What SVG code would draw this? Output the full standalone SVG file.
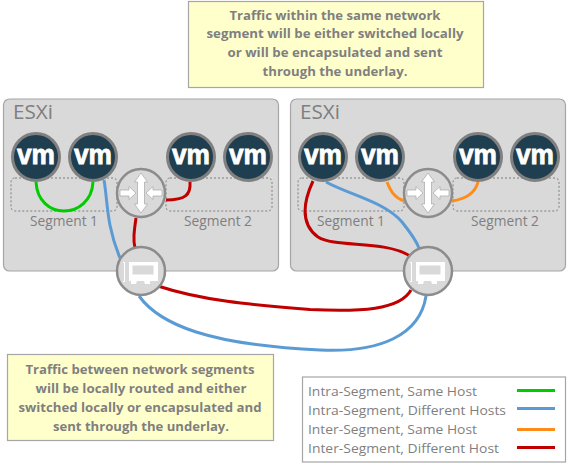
<svg xmlns="http://www.w3.org/2000/svg" width="567" height="466" viewBox="0 0 567 466">
<style>
text{font-family:"Open Sans","Liberation Sans",sans-serif}
.host{fill:#d9d9d9;stroke:#a6a6a6;stroke-width:1.2}
.hl{font-size:20px;fill:#7f7f7f}
.seg{fill:none;stroke:#7f7f7f;stroke-width:1;stroke-dasharray:2 2}
.sl{font-size:14px;fill:#7f7f7f;text-anchor:middle}
.vmc{fill:#1f3f50;stroke:#808080;stroke-width:3}
.vmt{font-family:"Liberation Sans",sans-serif;font-weight:700;font-size:27px;fill:#fff;stroke:#fff;stroke-width:.8;text-anchor:middle}
.circ{fill:#d9d9d9;stroke:#8c8c8c;stroke-width:2.5}
.arr{fill:#fff;stroke:#a6a6a6;stroke-width:.7}
.nic{fill:#fff;stroke:none}
.nici{fill:#d9d9d9;stroke:#fff;stroke-width:1}
.w{fill:none;stroke-width:3}
.g{stroke:#00cc00}.b{stroke:#5b9bd5}.o{stroke:#ff8c1a}.r{stroke:#c00000}
.note{fill:#ffffcc;stroke:#a6a6a6;stroke-width:1.2}
.nt{font-size:12.5px;font-weight:700;fill:#7f7f7f;text-anchor:middle}
.lg{font-size:13.5px;fill:#7f7f7f}
</style>
<defs>
<g id="vm"><circle class="vmc" r="23.500"/><text class="vmt" y="7" textLength="38" lengthAdjust="spacingAndGlyphs">vm</text></g>
<g id="router"><circle class="circ" r="24"/>
<path class="arr" d="M0-20l6.500 9h-3v22h3l-6.500 9-6.500-9h3v-22h-3z"/>
<path class="arr" d="M-21-3h9v-3.500l7 6.500-7 6.500v-3.500h-9z"/>
<path class="arr" d="M21-3h-9v-3.500l-7 6.500 7 6.500v-3.500h9z"/>
</g>
<g id="edge"><circle class="circ" r="24"/>
<path class="nic" d="M-12-9h29v19h-8v3h-5l-1-3h-7l-1 3h-5v-3h-2z"/>
<rect class="nici" x="-9" y="-6" width="22" height="10"/>
<path d="M-18-9h2v20h-2v-1h1v-18h-1z" fill="#fff"/>
</g>
</defs>
<g id="host1"><rect class="host" x="3.500" y="99" width="275" height="172" rx="6"/><text class="hl" x="13" y="119" textLength="40" lengthAdjust="spacingAndGlyphs">ESXi</text></g>
<g id="host2"><rect class="host" x="290.500" y="99" width="275" height="172" rx="6"/><text class="hl" x="300" y="119" textLength="40" lengthAdjust="spacingAndGlyphs">ESXi</text></g>
<g id="segments">
<g id="seg1a"><rect class="seg" x="11" y="178" width="106" height="33" rx="4"/><text class="sl" x="64" y="226" textLength="68" lengthAdjust="spacingAndGlyphs">Segment 1</text></g>
<g id="seg2a"><rect class="seg" x="166" y="178" width="106" height="33" rx="4"/><text class="sl" x="218" y="226" textLength="68" lengthAdjust="spacingAndGlyphs">Segment 2</text></g>
<g id="seg1b"><rect class="seg" x="298" y="178" width="106" height="33" rx="4"/><text class="sl" x="351" y="226" textLength="68" lengthAdjust="spacingAndGlyphs">Segment 1</text></g>
<g id="seg2b"><rect class="seg" x="453" y="178" width="106" height="33" rx="4"/><text class="sl" x="505" y="226" textLength="68" lengthAdjust="spacingAndGlyphs">Segment 2</text></g>
</g>
<g id="connectors">
<path class="w g" d="M36 182C37 201 50 211 64 211C78 211 92 201 93 182"/>
<path class="w b" d="M104 180C108 203 106 224 120 258"/>
<path class="w r" d="M190 182C191 195 185 200 166 200"/>
<path class="w r" d="M136 218C134 232 133 240 135 248"/>
<path class="w r" d="M158 286C200 300 250 305 310 309.500C360 312 400 310 411 290"/>
<path class="w b" d="M139 296C160 325 210 345 320 350C380 353 420 335 426 296"/>
<path class="w r" d="M313 181C301 207 303 226 318 237C335 248 385 240 410 256"/>
<path class="w b" d="M326 182C350 195 385 202 402 222C410 232 416 240 419 248"/>
<path class="w o" d="M387 182C391 192 395 198 404 201"/>
<path class="w o" d="M478 182C475 194 465 199 452 201"/>
</g>
<use id="vm1" href="#vm" x="36" y="157"/>
<use id="vm2" href="#vm" x="93" y="157"/>
<use id="vm3" href="#vm" x="191" y="157"/>
<use id="vm4" href="#vm" x="248" y="157"/>
<use id="vm5" href="#vm" x="323" y="157"/>
<use id="vm6" href="#vm" x="380" y="157"/>
<use id="vm7" href="#vm" x="478" y="157"/>
<use id="vm8" href="#vm" x="535" y="157"/>
<use id="router1" href="#router" x="141" y="193"/>
<use id="router2" href="#router" x="428" y="193"/>
<use id="edge1" href="#edge" x="141" y="271"/>
<use id="edge2" href="#edge" x="428" y="271"/>
<g id="note1"><rect class="note" x="188.500" y="1.500" width="295" height="86"/>
<text class="nt" x="335" y="20" textLength="211" lengthAdjust="spacingAndGlyphs">Traffic within the same network</text>
<text class="nt" x="335" y="38" textLength="257" lengthAdjust="spacingAndGlyphs">segment will be either switched locally</text>
<text class="nt" x="335" y="57" textLength="215" lengthAdjust="spacingAndGlyphs">or will be encapsulated and sent</text>
<text class="nt" x="335" y="76" textLength="145" lengthAdjust="spacingAndGlyphs">through the underlay.</text></g>
<g id="note2"><rect class="note" x="7.500" y="354.500" width="266" height="86"/>
<text class="nt" x="140" y="374" textLength="229" lengthAdjust="spacingAndGlyphs">Traffic between network segments</text>
<text class="nt" x="141" y="393" textLength="211" lengthAdjust="spacingAndGlyphs">will be locally routed and either</text>
<text class="nt" x="140" y="412" textLength="243" lengthAdjust="spacingAndGlyphs">switched locally or encapsulated and</text>
<text class="nt" x="141" y="431" textLength="176" lengthAdjust="spacingAndGlyphs">sent through the underlay.</text></g>
<g id="legend"><rect x="302.500" y="377" width="263" height="85" fill="#fff" stroke="#a6a6a6" stroke-width="1.200"/>
<text class="lg" x="308" y="396" textLength="169" lengthAdjust="spacingAndGlyphs">Intra-Segment, Same Host</text>
<text class="lg" x="308" y="415" textLength="198" lengthAdjust="spacingAndGlyphs">Intra-Segment, Different Hosts</text>
<text class="lg" x="308" y="434" textLength="169" lengthAdjust="spacingAndGlyphs">Inter-Segment, Same Host</text>
<text class="lg" x="308" y="453" textLength="191" lengthAdjust="spacingAndGlyphs">Inter-Segment, Different Host</text>
<path class="w g" d="M517 390.500h38"/><path class="w b" d="M517 408.500h38"/><path class="w o" d="M517 429.500h38"/><path class="w r" d="M517 447.500h38"/></g>
</svg>
